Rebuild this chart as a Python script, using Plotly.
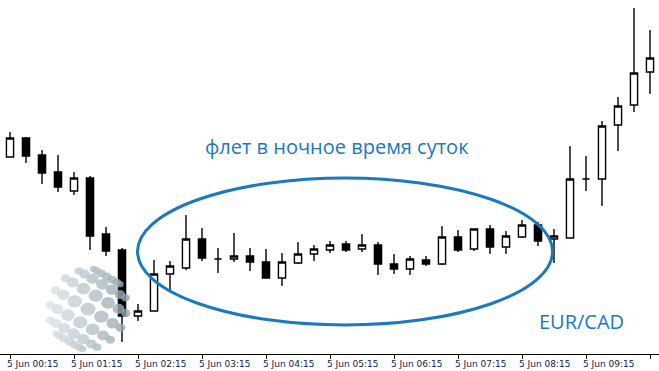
import math
import plotly.graph_objects as go

# ---- data (EUR/CAD, 15-minute candles, 5 Jun) ----
candle_idx = list(range(41))
open_ = [1.48486, 1.48524, 1.48490, 1.48456, 1.48418, 1.48444, 1.48332, 1.48300, 1.48168, 1.48178,
         1.48252, 1.48264, 1.48322, 1.48282, 1.48282, 1.48288, 1.48276, 1.48244, 1.48274, 1.48292,
         1.48300, 1.48312, 1.48302, 1.48310, 1.48272, 1.48262, 1.48280, 1.48272, 1.48326, 1.48302,
         1.48342, 1.48306, 1.48326, 1.48350, 1.48322, 1.48324, 1.48442, 1.48442, 1.48550, 1.48590,
         1.48656]
high = [1.48536, 1.48526, 1.48500, 1.48490, 1.48456, 1.48448, 1.48346, 1.48304, 1.48192, 1.48280,
        1.48278, 1.48370, 1.48344, 1.48304, 1.48334, 1.48304, 1.48302, 1.48294, 1.48316, 1.48310,
        1.48318, 1.48318, 1.48332, 1.48316, 1.48292, 1.48288, 1.48288, 1.48348, 1.48340, 1.48342,
        1.48350, 1.48338, 1.48360, 1.48356, 1.48342, 1.48508, 1.48488, 1.48558, 1.48606, 1.48784,
        1.48740]
low = [1.48486, 1.48474, 1.48432, 1.48416, 1.48410, 1.48300, 1.48288, 1.48116, 1.48158, 1.48178,
       1.48216, 1.48260, 1.48278, 1.48254, 1.48276, 1.48258, 1.48244, 1.48228, 1.48272, 1.48278,
       1.48294, 1.48296, 1.48296, 1.48250, 1.48252, 1.48250, 1.48268, 1.48270, 1.48296, 1.48298,
       1.48292, 1.48292, 1.48324, 1.48308, 1.48274, 1.48324, 1.48418, 1.48388, 1.48498, 1.48576,
       1.48612]
close = [1.48524, 1.48488, 1.48454, 1.48426, 1.48444, 1.48328, 1.48298, 1.48168, 1.48178, 1.48252,
         1.48268, 1.48322, 1.48284, 1.48282, 1.48288, 1.48276, 1.48244, 1.48276, 1.48292, 1.48302,
         1.48310, 1.48300, 1.48310, 1.48272, 1.48262, 1.48282, 1.48272, 1.48326, 1.48300, 1.48342,
         1.48306, 1.48328, 1.48350, 1.48318, 1.48328, 1.48442, 1.48442, 1.48548, 1.48588, 1.48654,
         1.48684]

tick_idx = [0, 4, 8, 12, 16, 20, 24, 28, 32, 36, 40]
tick_labels = ["5 Jun 00:15", "5 Jun 01:15", "5 Jun 02:15", "5 Jun 03:15", "5 Jun 04:15",
               "5 Jun 05:15", "5 Jun 06:15", "5 Jun 07:15", "5 Jun 08:15", "5 Jun 09:15",
               "5 Jun 10:15"]

title_text = "флет в ночное время суток"
pair_text = "EUR/CAD"

# flat-zone ellipse (candle index / price)
flat_x = [7.97, 33.91]
flat_y = [1.48150, 1.48444]

BLUE = "#1b79be"
W, H = 659, 371
PLOT_H = 354

fig = go.Figure()
fig.add_trace(go.Candlestick(
    x=candle_idx, open=open_, high=high, low=low, close=close,
    increasing=dict(line=dict(color="black", width=1.4), fillcolor="white"),
    decreasing=dict(line=dict(color="black", width=1.4), fillcolor="black"),
    whiskerwidth=0, showlegend=False, hoverinfo="skip",
))

shapes = [dict(type="circle", xref="x", yref="y",
               x0=flat_x[0], x1=flat_x[1], y0=flat_y[0], y1=flat_y[1],
               line=dict(color=BLUE, width=3), layer="above")]

# decorative dotted-globe watermark (bottom left)
cx, cy, R = 88.0, 309.0, 41.0
tilt = math.radians(-30)
for lat in range(-66, 90, 22):
    for lon in range(-96, 101, 22):
        la, lo = math.radians(lat), math.radians(lon + 8)
        x3 = math.cos(la) * math.sin(lo)
        y3 = math.sin(la)
        z3 = math.cos(la) * math.cos(lo)
        if z3 <= 0.08:
            continue
        xr = x3 * math.cos(tilt) - y3 * math.sin(tilt)
        yr = x3 * math.sin(tilt) + y3 * math.cos(tilt)
        px = cx + R * xr
        py = cy - R * yr
        r = 7.5 * (0.4 + 0.6 * z3)
        shade = 0.5 + 0.5 * xr
        c0 = (222, 231, 236)
        c1 = (148, 164, 174)
        col = tuple(int(c0[k] + (c1[k] - c0[k]) * shade) for k in range(3))
        shapes.append(dict(type="circle", xref="paper", yref="paper",
                           x0=(px - r) / W, x1=(px + r) / W,
                           y0=(PLOT_H - py - r * 0.85) / PLOT_H, y1=(PLOT_H - py + r * 0.85) / PLOT_H,
                           line=dict(width=0), fillcolor="rgb(%d,%d,%d)" % col,
                           opacity=0.8, layer="above"))

fig.update_layout(
    width=W, height=H,
    margin=dict(l=0, r=0, t=0, b=H - PLOT_H),
    paper_bgcolor="white", plot_bgcolor="white",
    boxgap=0.36,
    shapes=shapes,
    annotations=[
        dict(text=title_text, xref="paper", yref="paper",
             x=337 / W, y=(PLOT_H - 146) / PLOT_H, xanchor="center", yanchor="middle",
             showarrow=False, font=dict(family="Open Sans", size=20, color=BLUE)),
        dict(text=pair_text, xref="paper", yref="paper",
             x=581 / W, y=(PLOT_H - 321) / PLOT_H, xanchor="center", yanchor="middle",
             showarrow=False, font=dict(family="Open Sans", size=20, color=BLUE)),
    ],
    xaxis=dict(
        range=[-0.625, 40.5625], showgrid=False, zeroline=False,
        rangeslider=dict(visible=False),
        tickmode="array", tickvals=tick_idx, ticktext=tick_labels,
        ticks="outside", ticklen=4, tickcolor="black", tickwidth=1,
        ticklabelposition="outside right", ticklabelshift=-4, ticklabelstandoff=1,
        showline=True, linecolor="black", linewidth=1,
        automargin=False,
        tickfont=dict(family="DejaVu Sans", size=9, color="#141a4a"),
    ),
    yaxis=dict(range=[1.48092, 1.48800], visible=False, showgrid=False, zeroline=False),
)

fig.write_html("out.html", config={"displayModeBar": False, "staticPlot": True},
               post_script="document.body.style.margin='0';document.body.style.overflow='hidden';")
